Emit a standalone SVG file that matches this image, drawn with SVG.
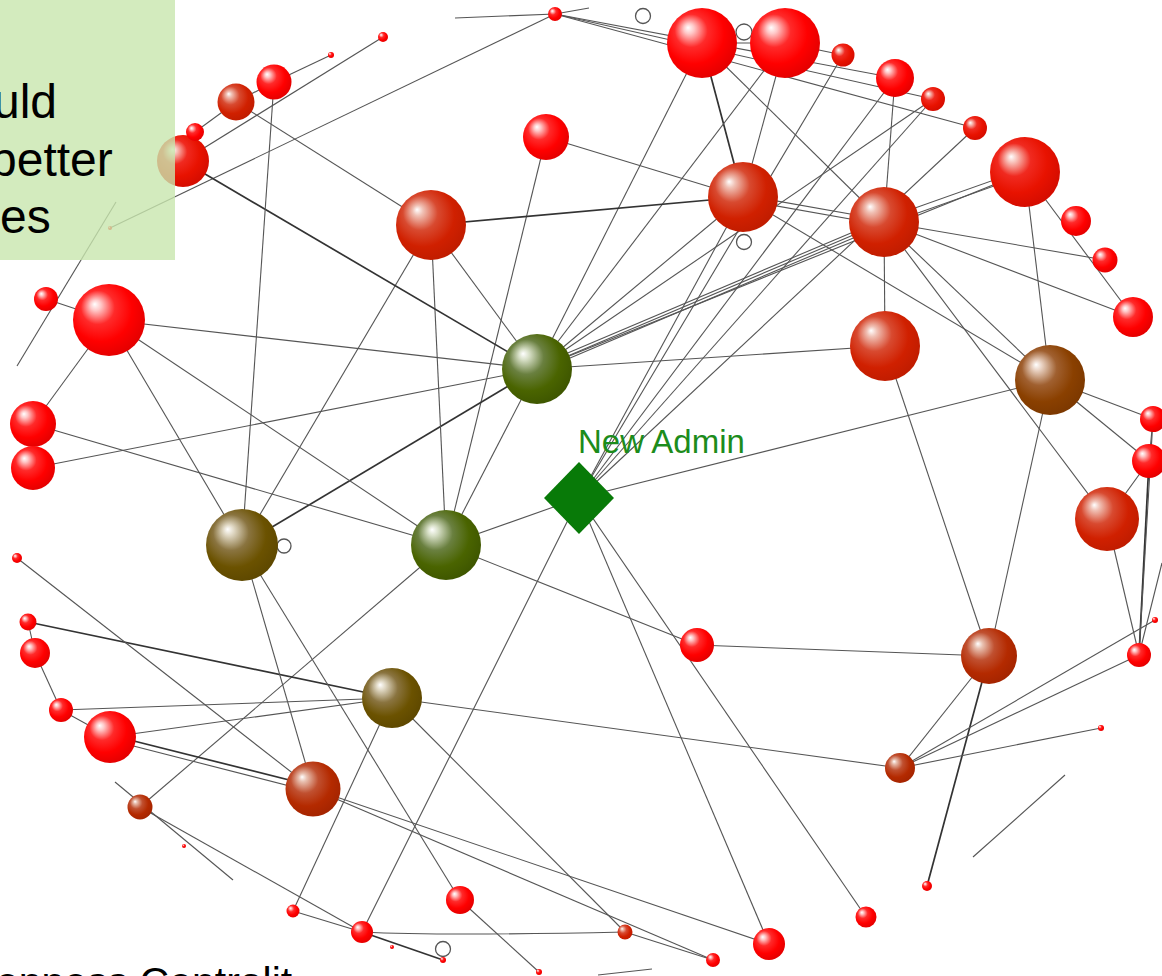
<svg xmlns="http://www.w3.org/2000/svg" width="1162" height="976" viewBox="0 0 1162 976">
<style>
.e{stroke:#555;stroke-width:1.1;fill:none}
.k{stroke:#333;stroke-width:1.7;fill:none}
.loop{fill:#fff;stroke:#555;stroke-width:1.3}
.lbl{font-family:"Liberation Sans",Arial,sans-serif}
</style>
<defs>
<radialGradient id="gR" cx="0.42" cy="0.4" r="0.62" fx="0.3" fy="0.28"><stop offset="0" stop-color="#ffffff"/><stop offset="0.12" stop-color="#ffc8c8"/><stop offset="0.38" stop-color="#ff2a2a"/><stop offset="0.7" stop-color="#ff0000"/><stop offset="1" stop-color="#e40000"/></radialGradient>
<radialGradient id="gR2" cx="0.42" cy="0.4" r="0.62" fx="0.3" fy="0.28"><stop offset="0" stop-color="#ffffff"/><stop offset="0.12" stop-color="#f8c0b8"/><stop offset="0.38" stop-color="#f02a20"/><stop offset="0.7" stop-color="#e81200"/><stop offset="1" stop-color="#d40c00"/></radialGradient>
<radialGradient id="gD" cx="0.42" cy="0.4" r="0.62" fx="0.3" fy="0.28"><stop offset="0" stop-color="#ffffff"/><stop offset="0.12" stop-color="#f0c0b4"/><stop offset="0.4" stop-color="#d84a30"/><stop offset="0.72" stop-color="#d02000"/><stop offset="1" stop-color="#c01c00"/></radialGradient>
<radialGradient id="gB" cx="0.42" cy="0.4" r="0.62" fx="0.3" fy="0.28"><stop offset="0" stop-color="#ffffff"/><stop offset="0.12" stop-color="#e8c0b0"/><stop offset="0.4" stop-color="#c05030"/><stop offset="0.72" stop-color="#b42a00"/><stop offset="1" stop-color="#a42400"/></radialGradient>
<radialGradient id="gBr" cx="0.42" cy="0.4" r="0.62" fx="0.3" fy="0.28"><stop offset="0" stop-color="#ffffff"/><stop offset="0.12" stop-color="#e8d0c0"/><stop offset="0.4" stop-color="#a06030"/><stop offset="0.72" stop-color="#8a4000"/><stop offset="1" stop-color="#7c3800"/></radialGradient>
<radialGradient id="gO" cx="0.42" cy="0.4" r="0.62" fx="0.3" fy="0.28"><stop offset="0" stop-color="#ffffff"/><stop offset="0.12" stop-color="#e0d8c4"/><stop offset="0.4" stop-color="#8a7440"/><stop offset="0.72" stop-color="#6b5200"/><stop offset="1" stop-color="#5e4800"/></radialGradient>
<radialGradient id="gG" cx="0.42" cy="0.4" r="0.62" fx="0.3" fy="0.28"><stop offset="0" stop-color="#ffffff"/><stop offset="0.12" stop-color="#d8e0c8"/><stop offset="0.4" stop-color="#6a8040"/><stop offset="0.72" stop-color="#4a6400"/><stop offset="1" stop-color="#3e5600"/></radialGradient>
</defs>
<rect width="1162" height="976" fill="#ffffff"/>
<g id="connectors">
<line class="e" x1="455" y1="18" x2="555" y2="14"/>
<line class="e" x1="555" y1="14" x2="589" y2="8"/>
<line class="e" x1="555" y1="14" x2="895" y2="78"/>
<line class="e" x1="555" y1="14" x2="933" y2="99"/>
<line class="e" x1="555" y1="14" x2="975" y2="128"/>
<line class="e" x1="555" y1="14" x2="110" y2="228"/>
<line class="e" x1="702" y1="43" x2="785" y2="43"/>
<line class="e" x1="785" y1="43" x2="843" y2="55"/>
<line class="k" x1="702" y1="43" x2="743" y2="197"/>
<line class="e" x1="785" y1="43" x2="743" y2="197"/>
<line class="e" x1="702" y1="43" x2="537" y2="369"/>
<line class="e" x1="785" y1="43" x2="537" y2="369"/>
<line class="e" x1="702" y1="43" x2="884" y2="222"/>
<line class="e" x1="843" y1="55" x2="579" y2="498"/>
<line class="e" x1="895" y1="78" x2="884" y2="222"/>
<line class="e" x1="895" y1="78" x2="579" y2="498"/>
<line class="e" x1="933" y1="99" x2="537" y2="369"/>
<line class="e" x1="933" y1="99" x2="579" y2="498"/>
<line class="e" x1="975" y1="128" x2="579" y2="498"/>
<line class="e" x1="1025" y1="169" x2="884" y2="219"/>
<line class="e" x1="1025" y1="175" x2="884" y2="225"/>
<line class="e" x1="1133" y1="317" x2="1025" y2="172"/>
<line class="e" x1="1025" y1="172" x2="1050" y2="380"/>
<line class="e" x1="546" y1="137" x2="743" y2="197"/>
<line class="e" x1="546" y1="137" x2="446" y2="545"/>
<line class="k" x1="743" y1="197" x2="431" y2="225"/>
<line class="e" x1="743" y1="197" x2="537" y2="369"/>
<line class="e" x1="743" y1="197" x2="579" y2="498"/>
<line class="e" x1="743" y1="195" x2="884" y2="220"/>
<line class="e" x1="743" y1="200" x2="884" y2="225"/>
<line class="e" x1="743" y1="197" x2="1050" y2="380"/>
<line class="e" x1="884" y1="222" x2="885" y2="346"/>
<line class="e" x1="884" y1="222" x2="1105" y2="260"/>
<line class="e" x1="884" y1="222" x2="1133" y2="317"/>
<line class="e" x1="884" y1="222" x2="1050" y2="380"/>
<line class="e" x1="884" y1="222" x2="1107" y2="519"/>
<line class="e" x1="537" y1="366" x2="884" y2="219"/>
<line class="e" x1="537" y1="369" x2="884" y2="222"/>
<line class="e" x1="537" y1="372" x2="884" y2="225"/>
<line class="e" x1="537" y1="369" x2="1025" y2="172"/>
<line class="e" x1="537" y1="369" x2="885" y2="346"/>
<line class="e" x1="537" y1="369" x2="109" y2="320"/>
<line class="e" x1="537" y1="369" x2="33" y2="468"/>
<line class="k" x1="537" y1="369" x2="242" y2="545"/>
<line class="e" x1="537" y1="369" x2="446" y2="545"/>
<line class="e" x1="431" y1="225" x2="242" y2="545"/>
<line class="e" x1="431" y1="225" x2="446" y2="545"/>
<line class="e" x1="431" y1="225" x2="537" y2="369"/>
<line class="e" x1="236" y1="102" x2="431" y2="225"/>
<line class="k" x1="183" y1="161" x2="537" y2="369"/>
<line class="e" x1="183" y1="161" x2="383" y2="37"/>
<line class="e" x1="195" y1="132" x2="236" y2="102"/>
<line class="e" x1="236" y1="102" x2="274" y2="82"/>
<line class="e" x1="274" y1="82" x2="331" y2="55"/>
<line class="e" x1="274" y1="82" x2="242" y2="545"/>
<line class="e" x1="109" y1="320" x2="46" y2="299"/>
<line class="e" x1="109" y1="320" x2="33" y2="424"/>
<line class="e" x1="109" y1="320" x2="242" y2="545"/>
<line class="e" x1="109" y1="320" x2="446" y2="545"/>
<line class="e" x1="33" y1="424" x2="446" y2="545"/>
<line class="e" x1="116" y1="202" x2="17" y2="366"/>
<line class="e" x1="1153" y1="419" x2="1050" y2="380"/>
<line class="e" x1="1050" y1="380" x2="1149" y2="461"/>
<line class="e" x1="1153" y1="419" x2="1149" y2="461"/>
<line class="e" x1="1149" y1="461" x2="1107" y2="519"/>
<line class="k" x1="1149" y1="461" x2="1139" y2="655"/>
<line class="e" x1="1153" y1="419" x2="1139" y2="655"/>
<line class="e" x1="1107" y1="519" x2="1139" y2="655"/>
<line class="e" x1="1162" y1="563" x2="1139" y2="655"/>
<line class="e" x1="579" y1="498" x2="1050" y2="380"/>
<line class="e" x1="579" y1="498" x2="446" y2="545"/>
<line class="e" x1="579" y1="498" x2="362" y2="932"/>
<line class="e" x1="579" y1="498" x2="769" y2="944"/>
<line class="e" x1="579" y1="498" x2="866" y2="917"/>
<line class="e" x1="446" y1="545" x2="697" y2="645"/>
<line class="e" x1="446" y1="545" x2="140" y2="807"/>
<line class="e" x1="885" y1="346" x2="989" y2="656"/>
<line class="e" x1="1050" y1="380" x2="989" y2="656"/>
<line class="e" x1="989" y1="656" x2="697" y2="645"/>
<line class="e" x1="989" y1="656" x2="900" y2="768"/>
<line class="k" x1="989" y1="656" x2="927" y2="886"/>
<line class="e" x1="900" y1="768" x2="1155" y2="620"/>
<line class="e" x1="900" y1="768" x2="1139" y2="655"/>
<line class="e" x1="900" y1="768" x2="1101" y2="728"/>
<line class="e" x1="392" y1="698" x2="900" y2="768"/>
<line class="k" x1="28" y1="622" x2="392" y2="698"/>
<line class="e" x1="392" y1="698" x2="61" y2="710"/>
<line class="e" x1="110" y1="737" x2="392" y2="698"/>
<line class="e" x1="392" y1="698" x2="293" y2="911"/>
<line class="e" x1="392" y1="698" x2="625" y2="932"/>
<line class="e" x1="242" y1="545" x2="313" y2="789"/>
<line class="e" x1="242" y1="545" x2="460" y2="900"/>
<line class="e" x1="17" y1="558" x2="313" y2="789"/>
<line class="k" x1="110" y1="735" x2="313" y2="786"/>
<line class="e" x1="110" y1="740" x2="313" y2="792"/>
<line class="e" x1="313" y1="789" x2="769" y2="944"/>
<line class="e" x1="313" y1="789" x2="713" y2="960"/>
<line class="e" x1="28" y1="622" x2="35" y2="653"/>
<line class="e" x1="35" y1="653" x2="61" y2="710"/>
<line class="e" x1="61" y1="710" x2="110" y2="737"/>
<line class="e" x1="115" y1="782" x2="233" y2="880"/>
<line class="e" x1="140" y1="807" x2="362" y2="932"/>
<line class="e" x1="293" y1="911" x2="362" y2="932"/>
<line class="k" x1="362" y1="932" x2="443" y2="960"/>
<path class="e" d="M362,932 Q443,936 625,932"/>
<line class="e" x1="625" y1="932" x2="713" y2="960"/>
<line class="e" x1="460" y1="900" x2="539" y2="972"/>
<line class="e" x1="598" y1="975" x2="652" y2="969"/>
<line class="e" x1="1065" y1="775" x2="973" y2="857"/>
</g>
<g id="loops">
<circle class="loop" cx="643" cy="16" r="7.5"/>
<circle class="loop" cx="744" cy="32" r="8"/>
<circle class="loop" cx="744" cy="242" r="7.5"/>
<circle class="loop" cx="284" cy="546" r="7"/>
<circle class="loop" cx="443" cy="949" r="7.5"/>
</g>
<g id="nodes">
<g id="n-a"><circle cx="555" cy="14" r="7" fill="url(#gR)"/></g>
<g id="n-b"><circle cx="702" cy="43" r="35" fill="url(#gR)"/></g>
<g id="n-c"><circle cx="785" cy="43" r="35" fill="url(#gR)"/></g>
<g id="n-d"><circle cx="843" cy="55" r="11.5" fill="url(#gR2)"/></g>
<g id="n-e"><circle cx="895" cy="78" r="19" fill="url(#gR)"/></g>
<g id="n-f"><circle cx="933" cy="99" r="12" fill="url(#gR2)"/></g>
<g id="n-g"><circle cx="975" cy="128" r="12" fill="url(#gR2)"/></g>
<g id="n-h"><circle cx="1025" cy="172" r="35" fill="url(#gR2)"/></g>
<g id="n-i"><circle cx="1076" cy="221" r="15" fill="url(#gR)"/></g>
<g id="n-j"><circle cx="1105" cy="260" r="12.5" fill="url(#gR)"/></g>
<g id="n-k"><circle cx="1133" cy="317" r="20" fill="url(#gR)"/></g>
<g id="n-l"><circle cx="546" cy="137" r="23" fill="url(#gR)"/></g>
<g id="n-m"><circle cx="743" cy="197" r="35" fill="url(#gD)"/></g>
<g id="n-n"><circle cx="884" cy="222" r="35" fill="url(#gD)"/></g>
<g id="n-o"><circle cx="431" cy="225" r="35" fill="url(#gD)"/></g>
<g id="n-p"><circle cx="885" cy="346" r="35" fill="url(#gD)"/></g>
<g id="n-q"><circle cx="537" cy="369" r="35" fill="url(#gG)"/></g>
<g id="n-r"><circle cx="1050" cy="380" r="35" fill="url(#gBr)"/></g>
<g id="n-s"><circle cx="1153" cy="419" r="13" fill="url(#gR)"/></g>
<g id="n-t"><circle cx="1149" cy="461" r="17" fill="url(#gR)"/></g>
<g id="n-u"><circle cx="1107" cy="519" r="32" fill="url(#gD)"/></g>
<g id="n-admin"><polygon points="579,462 614,498 579,534 544,498" fill="#087a08"/><text class="lbl" x="578" y="453" font-size="33" fill="#1c8c1c">New Admin</text></g>
<g id="n-w"><circle cx="446" cy="545" r="35" fill="url(#gG)"/></g>
<g id="n-x"><circle cx="242" cy="545" r="36" fill="url(#gO)"/></g>
<g id="n-y"><circle cx="697" cy="645" r="17" fill="url(#gR)"/></g>
<g id="n-z"><circle cx="989" cy="656" r="28" fill="url(#gB)"/></g>
<g id="n-a2"><circle cx="1139" cy="655" r="12" fill="url(#gR)"/></g>
<g id="n-b2"><circle cx="1101" cy="728" r="3" fill="url(#gR)"/></g>
<g id="n-c2"><circle cx="1155" cy="620" r="3" fill="url(#gR)"/></g>
<g id="n-d2"><circle cx="392" cy="698" r="30" fill="url(#gO)"/></g>
<g id="n-e2"><circle cx="900" cy="768" r="15" fill="url(#gB)"/></g>
<g id="n-f2"><circle cx="927" cy="886" r="5" fill="url(#gR)"/></g>
<g id="n-g2"><circle cx="866" cy="917" r="10.5" fill="url(#gR)"/></g>
<g id="n-h2"><circle cx="769" cy="944" r="16" fill="url(#gR)"/></g>
<g id="n-i2"><circle cx="713" cy="960" r="7" fill="url(#gR)"/></g>
<g id="n-j2"><circle cx="625" cy="932" r="7.5" fill="url(#gD)"/></g>
<g id="n-k2"><circle cx="539" cy="972" r="3" fill="url(#gR)"/></g>
<g id="n-l2"><circle cx="460" cy="900" r="14" fill="url(#gR)"/></g>
<g id="n-m2"><circle cx="362" cy="932" r="11" fill="url(#gR)"/></g>
<g id="n-n2"><circle cx="293" cy="911" r="6.5" fill="url(#gR)"/></g>
<g id="n-o2"><circle cx="443" cy="960" r="3" fill="url(#gR)"/></g>
<g id="n-p2"><circle cx="392" cy="947" r="2" fill="url(#gR)"/></g>
<g id="n-q2"><circle cx="313" cy="789" r="27.5" fill="url(#gB)"/></g>
<g id="n-r2"><circle cx="140" cy="807" r="12.5" fill="url(#gB)"/></g>
<g id="n-s2"><circle cx="184" cy="846" r="2" fill="url(#gR)"/></g>
<g id="n-t2"><circle cx="110" cy="737" r="26" fill="url(#gR)"/></g>
<g id="n-u2"><circle cx="61" cy="710" r="12" fill="url(#gR)"/></g>
<g id="n-v2"><circle cx="35" cy="653" r="15" fill="url(#gR)"/></g>
<g id="n-w2"><circle cx="28" cy="622" r="8.5" fill="url(#gR)"/></g>
<g id="n-x2"><circle cx="17" cy="558" r="5" fill="url(#gR)"/></g>
<g id="n-y2"><circle cx="33" cy="424" r="23" fill="url(#gR)"/></g>
<g id="n-z2"><circle cx="33" cy="468" r="22" fill="url(#gR)"/></g>
<g id="n-a3"><circle cx="109" cy="320" r="36" fill="url(#gR)"/></g>
<g id="n-b3"><circle cx="46" cy="299" r="12" fill="url(#gR)"/></g>
<g id="n-c3"><circle cx="183" cy="161" r="26" fill="url(#gR2)"/></g>
<g id="n-d3"><circle cx="195" cy="132" r="9" fill="url(#gR)"/></g>
<g id="n-e3"><circle cx="236" cy="102" r="18.5" fill="url(#gD)"/></g>
<g id="n-f3"><circle cx="274" cy="82" r="17.5" fill="url(#gR)"/></g>
<g id="n-g3"><circle cx="331" cy="55" r="3" fill="url(#gR)"/></g>
<g id="n-h3"><circle cx="383" cy="37" r="5" fill="url(#gR)"/></g>
<g id="n-i3"><circle cx="110" cy="228" r="2" fill="url(#gR)"/></g>
</g>
<g id="note">
<rect x="0" y="0" width="175" height="260" fill="#c8e6ae" opacity="0.8"/>
<text class="lbl" font-size="48" fill="#000"><tspan x="-7" y="118">uld</tspan><tspan x="-10" y="176">better</tspan><tspan x="0" y="233">es</tspan></text>
</g>
<text id="caption" class="lbl" x="-118" y="996" font-size="41" fill="#000">Betweenness Centralit</text>
</svg>
